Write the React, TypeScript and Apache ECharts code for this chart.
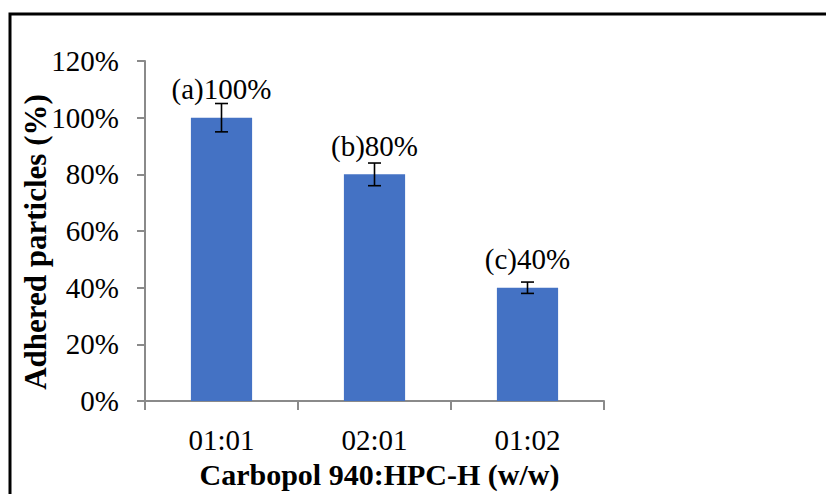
import React, { useEffect, useRef } from "react";
import * as echarts from "echarts";

const categories = ["01:01", "02:01", "01:02"];
const values = [100, 80, 40];
const errors = [5, 4, 2];
const letters = ["(a)", "(b)", "(c)"];
const yTicks = { min: 0, max: 120, interval: 20 };

const FONT = "'Liberation Serif', 'Times New Roman', serif";

export default function App() {
  const ref = useRef<HTMLDivElement>(null);
  useEffect(() => {
    if (!ref.current) return;
    const chart = echarts.init(ref.current, null, { renderer: "svg" });
    const errData = values.map((v, i) => [i, v - errors[i], v + errors[i]]);
    chart.setOption({
      animation: false,
      backgroundColor: "#ffffff",
      textStyle: { fontFamily: FONT },
      grid: { left: 145, right: 222, top: 61, bottom: 87, containLabel: false },
      graphic: [
        {
          type: "rect",
          shape: { x: 10, y: 14, width: 1000, height: 700 },
          style: { fill: "none", stroke: "#000", lineWidth: 3 },
          silent: true,
        },
        {
          type: "text",
          x: 35,
          y: 242,
          rotation: Math.PI / 2,
          style: {
            text: "Adhered particles (%)",
            fontFamily: FONT,
            fontWeight: "bold",
            fontSize: 31,
            fill: "#000",
            align: "center",
            verticalAlign: "middle",
          },
        },
      ],
      xAxis: {
        type: "category",
        data: categories,
        name: "Carbopol 940:HPC-H (w/w)",
        nameLocation: "middle",
        nameGap: 50,
        nameTextStyle: {
          fontFamily: FONT,
          fontWeight: "bold",
          fontSize: 30,
          color: "#000",
          padding: [0, 0, 0, 10],
        },
        axisLine: { lineStyle: { color: "#8a8a8a", width: 2 } },
        axisTick: { show: true, length: 9, lineStyle: { color: "#8a8a8a", width: 2 } },
        axisLabel: { fontFamily: FONT, fontSize: 29, color: "#000", margin: 24 },
      },
      yAxis: {
        type: "value",
        min: yTicks.min,
        max: yTicks.max,
        interval: yTicks.interval,
        axisLine: { show: true, lineStyle: { color: "#8a8a8a", width: 2 } },
        axisTick: { show: true, length: 8, lineStyle: { color: "#8a8a8a", width: 2 } },
        splitLine: { show: false },
        axisLabel: {
          fontFamily: FONT,
          fontSize: 29,
          color: "#000",
          margin: 26,
          formatter: "{value}%",
        },
      },
      series: [
        {
          type: "bar",
          data: values,
          barWidth: "40%",
          itemStyle: { color: "#4472C4" },
          label: {
            show: true,
            position: "top",
            distance: 14,
            fontFamily: FONT,
            fontSize: 29,
            color: "#000",
            formatter: (p: any) => letters[p.dataIndex] + p.value + "%",
          },
        },
        {
          type: "custom",
          data: errData,
          z: 10,
          renderItem: (params: any, api: any) => {
            const x = api.value(0);
            const lo = api.coord([x, api.value(1)]);
            const hi = api.coord([x, api.value(2)]);
            const hw = 6.5;
            const st = { stroke: "#000", lineWidth: 1.6 };
            return {
              type: "group",
              children: [
                { type: "line", shape: { x1: hi[0], y1: hi[1], x2: lo[0], y2: lo[1] }, style: st },
                { type: "line", shape: { x1: hi[0] - hw, y1: hi[1], x2: hi[0] + hw, y2: hi[1] }, style: st },
                { type: "line", shape: { x1: lo[0] - hw, y1: lo[1], x2: lo[0] + hw, y2: lo[1] }, style: st },
              ],
            };
          },
        },
      ],
    });
    return () => chart.dispose();
  }, []);
  return (
    <div
      ref={ref}
      style={{ position: "fixed", left: 0, top: 0, width: 826, height: 494 }}
    />
  );
}
